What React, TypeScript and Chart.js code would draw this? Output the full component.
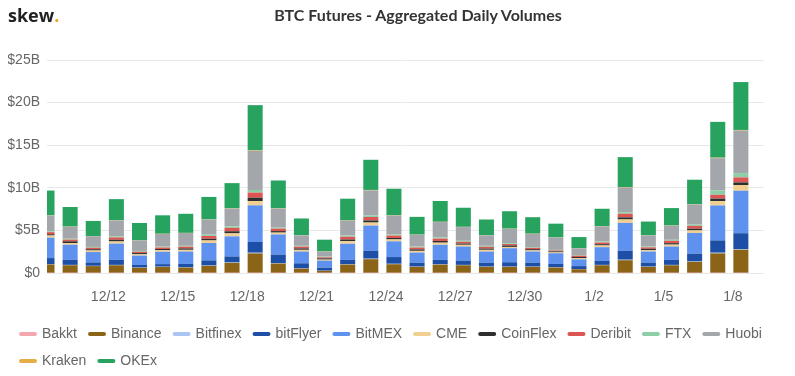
import React, { useEffect, useRef } from 'react';
import { Chart, registerables } from 'chart.js';

Chart.register(...registerables);

const dates = [
  '12/9', '12/10', '12/11', '12/12', '12/13', '12/14', '12/15', '12/16', '12/17', '12/18',
  '12/19', '12/20', '12/21', '12/22', '12/23', '12/24', '12/25', '12/26', '12/27', '12/28',
  '12/29', '12/30', '12/31', '1/1', '1/2', '1/3', '1/4', '1/5', '1/6', '1/7', '1/8', '1/9',
];

// values in $ billions (last category 1/9 has no data)
const bakkt = [0.01, 0.01, 0.01, 0.01, 0.01, 0.01, 0.01, 0.01, 0.01, 0.02, 0.01, 0.01, 0.01, 0.01, 0.01, 0.01, 0.01, 0.01, 0.01, 0.01, 0.01, 0.01, 0.01, 0.01, 0.01, 0.01, 0.01, 0.01, 0.01, 0.02, 0.02, null];
const binance = [1.0, 0.9, 0.8, 0.9, 0.6, 0.7, 0.63, 0.83, 1.18, 2.28, 1.1, 0.51, 0.24, 0.98, 1.61, 1.02, 0.71, 0.98, 0.9, 0.71, 0.71, 0.71, 0.63, 0.43, 0.9, 1.49, 0.71, 0.9, 1.3, 2.28, 2.71, null];
const bitfinex = [0.04, 0.04, 0.03, 0.04, 0.03, 0.03, 0.03, 0.04, 0.05, 0.08, 0.05, 0.03, 0.02, 0.04, 0.06, 0.05, 0.03, 0.04, 0.04, 0.03, 0.03, 0.03, 0.03, 0.02, 0.04, 0.06, 0.03, 0.04, 0.05, 0.08, 0.09, null];
const bitflyer = [0.7, 0.6, 0.4, 0.6, 0.3, 0.3, 0.4, 0.6, 0.7, 1.26, 1.0, 0.59, 0.35, 0.51, 0.94, 0.79, 0.47, 0.51, 0.51, 0.47, 0.51, 0.47, 0.39, 0.35, 0.47, 1.06, 0.47, 0.59, 0.9, 1.45, 1.85, null];
const bitmex = [2.4, 1.77, 1.22, 1.9, 1.1, 1.45, 1.45, 2.04, 2.36, 4.3, 2.36, 1.38, 0.83, 1.89, 2.95, 1.85, 1.18, 1.77, 1.65, 1.3, 1.65, 1.3, 1.26, 0.79, 1.61, 3.26, 1.3, 1.57, 2.44, 4.1, 4.99, null];
const cme = [0.25, 0.2, 0.18, 0.25, 0.15, 0.18, 0.2, 0.3, 0.35, 0.5, 0.22, 0.2, 0.12, 0.3, 0.35, 0.22, 0.2, 0.25, 0.2, 0.2, 0.15, 0.13, 0.1, 0.13, 0.2, 0.4, 0.15, 0.22, 0.3, 0.5, 0.67, null];
const coinflex = [0.15, 0.2, 0.15, 0.2, 0.15, 0.15, 0.17, 0.2, 0.25, 0.4, 0.18, 0.17, 0.15, 0.2, 0.25, 0.17, 0.17, 0.2, 0.15, 0.15, 0.17, 0.15, 0.12, 0.15, 0.15, 0.25, 0.17, 0.17, 0.2, 0.3, 0.3, null];
const deribit = [0.25, 0.2, 0.17, 0.28, 0.15, 0.17, 0.2, 0.33, 0.4, 0.6, 0.28, 0.2, 0.12, 0.33, 0.4, 0.28, 0.22, 0.28, 0.2, 0.2, 0.17, 0.15, 0.1, 0.15, 0.2, 0.43, 0.17, 0.28, 0.33, 0.45, 0.59, null];
const ftx = [0.1, 0.1, 0.1, 0.13, 0.1, 0.1, 0.1, 0.15, 0.18, 0.3, 0.12, 0.1, 0.08, 0.15, 0.18, 0.12, 0.12, 0.13, 0.12, 0.12, 0.1, 0.08, 0.07, 0.08, 0.12, 0.18, 0.1, 0.12, 0.15, 0.5, 0.51, null];
const huobi = [1.85, 1.4, 1.26, 1.85, 1.22, 1.5, 1.5, 1.77, 2.08, 4.6, 2.24, 1.22, 0.59, 1.73, 2.95, 2.24, 1.38, 1.81, 1.61, 1.22, 1.69, 1.57, 1.45, 0.79, 1.77, 2.87, 1.3, 1.65, 2.36, 3.8, 4.99, null];
const kraken = [0.03, 0.03, 0.02, 0.03, 0.02, 0.02, 0.02, 0.03, 0.04, 0.06, 0.04, 0.02, 0.02, 0.03, 0.05, 0.04, 0.02, 0.03, 0.03, 0.02, 0.02, 0.02, 0.02, 0.02, 0.03, 0.05, 0.02, 0.03, 0.04, 0.06, 0.07, null];
const okex = [2.9, 2.3, 1.77, 2.48, 2.04, 2.16, 2.24, 2.63, 2.95, 5.3, 3.26, 1.97, 1.38, 2.55, 3.54, 3.1, 2.08, 2.44, 2.24, 1.85, 2.04, 1.93, 1.61, 1.3, 2.04, 3.54, 1.61, 2.04, 2.87, 4.2, 5.62, null];

const seriesNames = ['Bakkt', 'Binance', 'Bitfinex', 'bitFlyer', 'BitMEX', 'CME', 'CoinFlex', 'Deribit', 'FTX', 'Huobi', 'Kraken', 'OKEx'];
const seriesValues = [bakkt, binance, bitfinex, bitflyer, bitmex, cme, coinflex, deribit, ftx, huobi, kraken, okex];
const seriesColors = ['#f2a7ae', '#8c6418', '#a9c5f2', '#1e4fa6', '#5f92ee', '#f1d08f', '#2f2f2f', '#db5552', '#8ccfa6', '#a3a6aa', '#e6ad44', '#28a35f'];

const yTicks = [0, 5, 10, 15, 20, 25];

export default function App() {
  const ref = useRef<HTMLCanvasElement | null>(null);

  useEffect(() => {
    if (!ref.current) return;
    const font = "'Liberation Sans', Arial, sans-serif";
    const chart = new Chart(ref.current, {
      type: 'bar',
      data: {
        labels: dates,
        datasets: seriesNames.map((name, i) => ({
          label: name,
          data: seriesValues[i],
          backgroundColor: seriesColors[i],
          borderWidth: 0,
          barPercentage: 0.65,
          categoryPercentage: 1,
          clip: 0,
        })),
      },
      options: {
        responsive: false,
        animation: false,
        layout: { padding: { left: 8, top: 60, bottom: -2, right: 0 } },
        plugins: {
          tooltip: { enabled: false },
          title: { display: false },
          legend: {
            position: 'bottom',
            align: 'start',
            labels: {
              usePointStyle: true,
              pointStyle: 'line',
              pointStyleWidth: 14,
              boxHeight: 14,
              padding: 13,
              color: '#666',
              font: { family: font, size: 14 },
              generateLabels: (c: any) => {
                const items = (Chart as any).defaults.plugins.legend.labels.generateLabels(c);
                return items.map((it: any) => ({
                  ...it,
                  pointStyle: 'line',
                  strokeStyle: it.fillStyle,
                  lineWidth: 4,
                  lineCap: 'round',
                }));
              },
            },
          },
        },
        scales: {
          x: {
            stacked: true,
            offset: false,
            grid: { display: false, drawTicks: false },
            border: { display: false },
            ticks: {
              autoSkip: false,
              maxRotation: 0,
              padding: 16,
              labelOffset: -8,
              color: '#666',
              font: { family: font, size: 14 },
              callback: (_v: any, idx: number) => (idx > 0 && idx % 3 === 0 && idx < 31 ? dates[idx] : null),
            },
            afterFit: (s: any) => { s.height = 41; },
          },
          y: {
            stacked: true,
            min: 0,
            max: 25,
            grid: { color: '#e8e8e8', drawTicks: false },
            border: { display: false },
            afterBuildTicks: (s: any) => { s.ticks = yTicks.map((v) => ({ value: v })); },
            ticks: {
              padding: 7,
              color: '#666',
              font: { family: font, size: 14 },
              callback: (v: any) => (v === 0 ? '$0' : '$' + v + 'B'),
            },
            afterFit: (s: any) => { s.width = 39; },
          },
          y2: {
            position: 'right',
            min: 0,
            max: 25,
            grid: { display: false, drawTicks: false },
            border: { display: false },
            ticks: { display: false },
            afterFit: (s: any) => { s.width = 31; },
          },
        },
      } as any,
    });
    return () => chart.destroy();
  }, []);

  return (
    <div style={{ position: 'absolute', left: 0, top: 0, width: 795, height: 376, background: '#fff', overflow: 'hidden' }}>
      <canvas ref={ref} width={795} height={376} style={{ display: 'block', width: 795, height: 376 }} />
      <div style={{ position: 'absolute', left: 8, top: 3, fontFamily: "'Open Sans', sans-serif", fontWeight: 700, fontSize: 18, color: '#222', letterSpacing: 0 }}>
        skew<span style={{ color: '#f0a826' }}>.</span>
      </div>
      <div style={{ position: 'absolute', left: 418, top: 5, transform: 'translateX(-50%)', whiteSpace: 'nowrap', fontFamily: "Lato, 'Open Sans', sans-serif", fontWeight: 700, fontSize: 16, color: '#333' }}>
        BTC Futures - Aggregated Daily Volumes
      </div>
    </div>
  );
}
